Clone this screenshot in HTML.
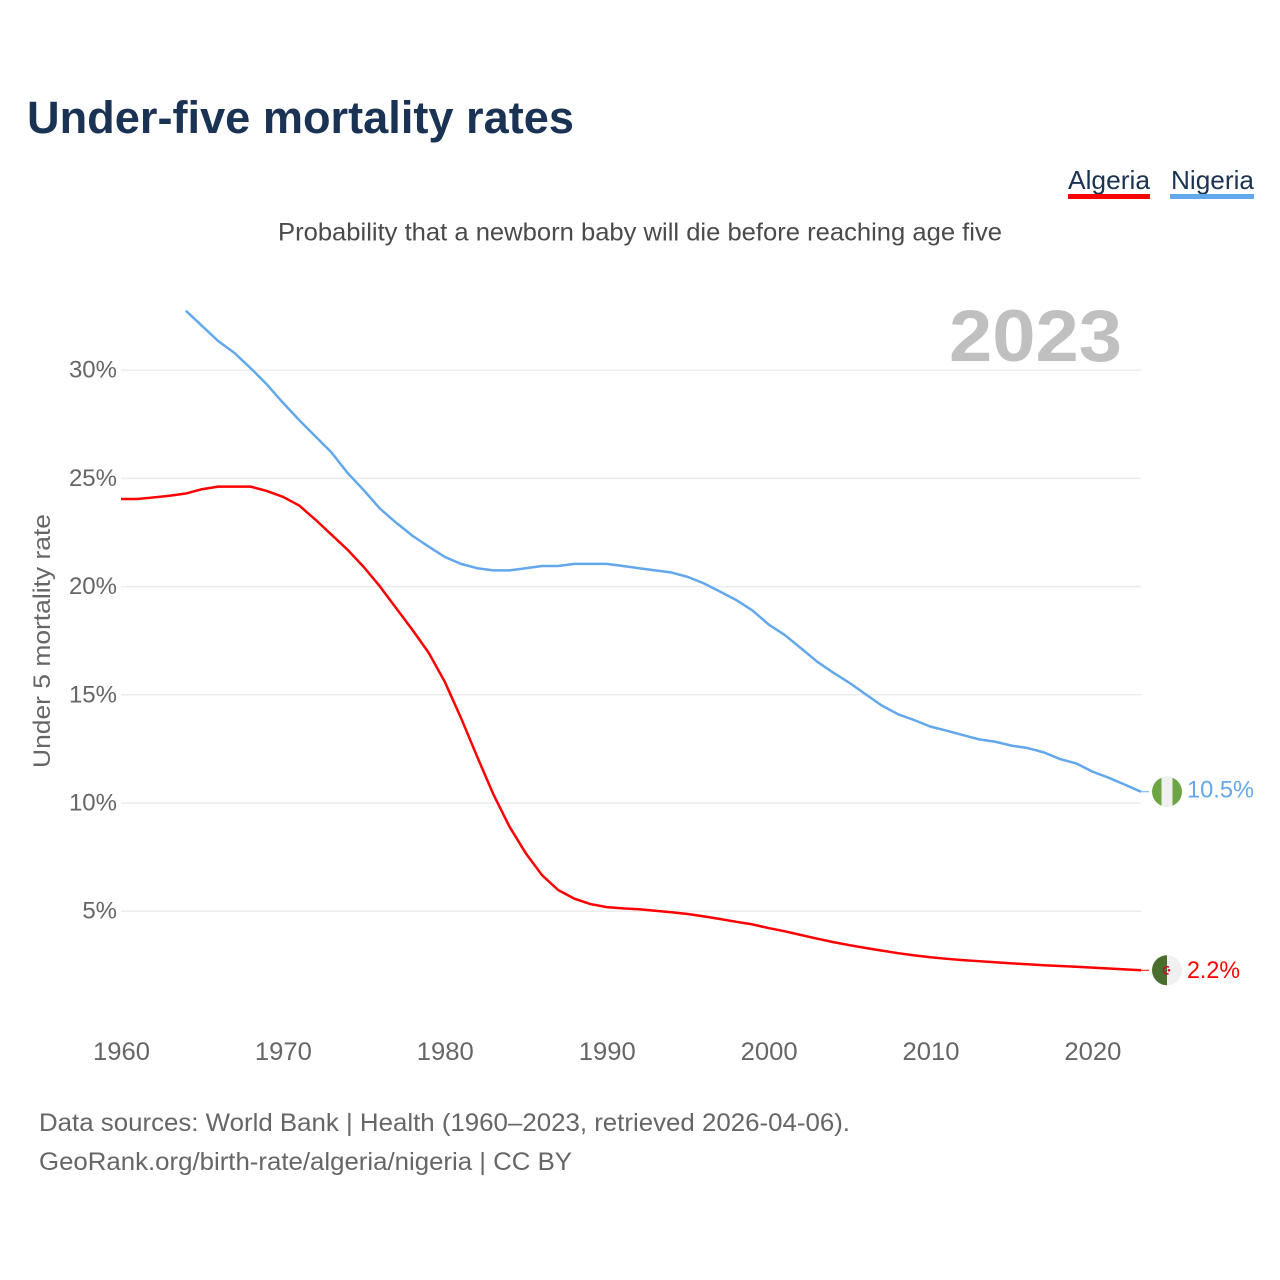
<!DOCTYPE html>
<html lang="en">
<head>
<meta charset="utf-8">
<title>Under-five mortality rates</title>
<style>
html,body{margin:0;padding:0;background:#fff;}
svg{display:block;}
text{font-family:"Liberation Sans",sans-serif;}
</style>
</head>
<body>
<svg id="chart" xmlns="http://www.w3.org/2000/svg" width="1280" height="1280" viewBox="0 0 1280 1280">
  <rect x="0" y="0" width="1280" height="1280" fill="#ffffff"/>
  <text x="27" y="133" font-size="45" font-weight="700" fill="#1a3354" textLength="547" lengthAdjust="spacingAndGlyphs">Under-five mortality rates</text>
  <g>
    <text x="1068" y="189" font-size="26" fill="#1a3354" textLength="82" lengthAdjust="spacingAndGlyphs">Algeria</text>
    <rect x="1068" y="194" width="82" height="5" fill="#ff0000"/>
  </g>
  <g>
    <text x="1171" y="189" font-size="26" fill="#1a3354" textLength="83" lengthAdjust="spacingAndGlyphs">Nigeria</text>
    <rect x="1170" y="194" width="84" height="5" fill="#63a7ec"/>
  </g>
  <text x="278" y="240.5" font-size="25" fill="#4a4a4a" textLength="724" lengthAdjust="spacingAndGlyphs">Probability that a newborn baby will die before reaching age five</text>
  <text x="949" y="361" font-size="73" font-weight="700" fill="#c0c0c0" textLength="173" lengthAdjust="spacingAndGlyphs">2023</text>
  <text transform="translate(50,768) rotate(-90)" x="0" y="0" font-size="24" fill="#666666" textLength="254" lengthAdjust="spacingAndGlyphs">Under 5 mortality rate</text>
  <g id="grid"></g>
  <g id="yticks"></g>
  <g id="xticks"></g>
  <g id="series"></g>
  <g id="end-markers"></g>
  <text x="39" y="1131" font-size="25" fill="#666666" textLength="811" lengthAdjust="spacingAndGlyphs">Data sources: World Bank | Health (1960–2023, retrieved 2026-04-06).</text>
  <text x="39" y="1170" font-size="25" fill="#666666" textLength="533" lengthAdjust="spacingAndGlyphs">GeoRank.org/birth-rate/algeria/nigeria | CC BY</text>
</svg>
<script>
const yearStart = 1960;
const algeriaStartYear = 1960;
const nigeriaStartYear = 1964;
const yTickValues = [5, 10, 15, 20, 25, 30];
const yTickLabels = ["5%", "10%", "15%", "20%", "25%", "30%"];
const xTickYears = [1960, 1970, 1980, 1990, 2000, 2010, 2020];
const xTickLabels = ["1960", "1970", "1980", "1990", "2000", "2010", "2020"];
const algeriaValues = [24.05, 24.05, 24.12, 24.2, 24.3, 24.5, 24.62, 24.62, 24.62, 24.42, 24.15, 23.75, 23.1, 22.4, 21.7, 20.9, 20.0, 19.0, 18.0, 16.95, 15.6, 13.93, 12.14, 10.4, 8.9, 7.68, 6.67, 5.98, 5.58, 5.33, 5.19, 5.13, 5.09, 5.02, 4.95, 4.87, 4.76, 4.64, 4.51, 4.39, 4.22, 4.07, 3.9, 3.73, 3.57, 3.43, 3.3, 3.18, 3.06, 2.96, 2.87, 2.8, 2.74, 2.69, 2.64, 2.59, 2.55, 2.5, 2.47, 2.43, 2.39, 2.35, 2.31, 2.27];
const nigeriaValues = [32.75, 32.05, 31.35, 30.8, 30.1, 29.35, 28.5, 27.7, 26.95, 26.2, 25.25, 24.45, 23.6, 22.95, 22.35, 21.85, 21.37, 21.05, 20.85, 20.75, 20.75, 20.85, 20.95, 20.95, 21.05, 21.05, 21.05, 20.95, 20.85, 20.75, 20.65, 20.45, 20.15, 19.77, 19.38, 18.9, 18.25, 17.76, 17.15, 16.53, 16.02, 15.55, 15.02, 14.5, 14.1, 13.83, 13.53, 13.34, 13.14, 12.94, 12.83, 12.65, 12.54, 12.34, 12.03, 11.83, 11.45, 11.17, 10.85, 10.52];
const algeriaEndLabel = "2.2%";
const nigeriaEndLabel = "10.5%";

const SVG_NS = "http://www.w3.org/2000/svg";
function xScale(year) { return 121 + (year - yearStart) * (1020 / 63); }
function yScale(v) { return 1019.4 - v * 21.64; }
function make(tag, parentId) {
  const el = document.createElementNS(SVG_NS, tag);
  document.getElementById(parentId).appendChild(el);
  return el;
}
function linePath(values, startYear) {
  return values.map(function (v, i) {
    return (i ? "L" : "M") + xScale(startYear + i).toFixed(2) + " " + yScale(v).toFixed(2);
  }).join(" ");
}

yTickValues.forEach(function (v, i) {
  const line = make("line", "grid");
  
  
  line.setAttribute("x1", 121);
  line.setAttribute("x2", 1141);
  line.setAttribute("y1", yScale(v));
  line.setAttribute("y2", yScale(v));
  line.setAttribute("stroke", "#ececec");
  line.setAttribute("stroke-width", "1.5");
  const t = make("text", "yticks");
  
  
  t.setAttribute("x", 117);
  t.setAttribute("y", yScale(v) + 7.5);
  t.setAttribute("text-anchor", "end");
  t.setAttribute("font-size", "24");
  t.setAttribute("fill", "#666666");
  t.textContent = yTickLabels[i];
});

xTickYears.forEach(function (yr, i) {
  const t = make("text", "xticks");
  
  
  t.setAttribute("x", xScale(yr) - 28);
  t.setAttribute("y", 1060);
  t.setAttribute("font-size", "25");
  t.setAttribute("fill", "#666666");
  t.setAttribute("textLength", "57");
  t.setAttribute("lengthAdjust", "spacingAndGlyphs");
  t.textContent = xTickLabels[i];
});

const algeriaLine = make("path", "series");


algeriaLine.setAttribute("d", linePath(algeriaValues, algeriaStartYear));
algeriaLine.setAttribute("fill", "none");
algeriaLine.setAttribute("stroke", "#ff0000");
algeriaLine.setAttribute("stroke-width", "2.5");
algeriaLine.setAttribute("stroke-linejoin", "round");

const nigeriaLine = make("path", "series");


nigeriaLine.setAttribute("d", linePath(nigeriaValues, nigeriaStartYear));
nigeriaLine.setAttribute("fill", "none");
nigeriaLine.setAttribute("stroke", "#63a7ec");
nigeriaLine.setAttribute("stroke-width", "2.5");
nigeriaLine.setAttribute("stroke-linejoin", "round");

const lastX = xScale(2023);
const flagX = lastX + 26;
const ngY = yScale(nigeriaValues[nigeriaValues.length - 1]);
const dzY = yScale(algeriaValues[algeriaValues.length - 1]);

const ngConn = make("line", "end-markers");


ngConn.setAttribute("x1", lastX);
ngConn.setAttribute("x2", lastX + 8);
ngConn.setAttribute("y1", ngY);
ngConn.setAttribute("y2", ngY);
ngConn.setAttribute("stroke", "#63a7ec");
ngConn.setAttribute("stroke-width", "1");

const dzConn = make("line", "end-markers");


dzConn.setAttribute("x1", lastX);
dzConn.setAttribute("x2", lastX + 8);
dzConn.setAttribute("y1", dzY);
dzConn.setAttribute("y2", dzY);
dzConn.setAttribute("stroke", "#ff0000");
dzConn.setAttribute("stroke-width", "1");

const ngBase = make("circle", "end-markers");


ngBase.setAttribute("cx", flagX);
ngBase.setAttribute("cy", ngY);
ngBase.setAttribute("r", 15);
ngBase.setAttribute("fill", "#6da544");

const ngStripe = make("path", "end-markers");


ngStripe.setAttribute("d", "M" + (flagX - 5.5) + " " + (ngY - 14) + " A15 15 0 0 1 " + (flagX + 5.5) + " " + (ngY - 14) + " L" + (flagX + 5.5) + " " + (ngY + 14) + " A15 15 0 0 1 " + (flagX - 5.5) + " " + (ngY + 14) + " Z");
ngStripe.setAttribute("fill", "#f0f0f0");

const dzBase = make("circle", "end-markers");


dzBase.setAttribute("cx", flagX);
dzBase.setAttribute("cy", dzY);
dzBase.setAttribute("r", 15);
dzBase.setAttribute("fill", "#f0f0f0");

const dzGreen = make("path", "end-markers");


dzGreen.setAttribute("d", "M" + flagX + " " + (dzY - 15) + " A15 15 0 0 0 " + flagX + " " + (dzY + 15) + " Z");
dzGreen.setAttribute("fill", "#496e2d");

const dzCrescent = make("circle", "end-markers");


dzCrescent.setAttribute("cx", flagX);
dzCrescent.setAttribute("cy", dzY);
dzCrescent.setAttribute("r", 3.6);
dzCrescent.setAttribute("fill", "none");
dzCrescent.setAttribute("stroke", "#d80027");
dzCrescent.setAttribute("stroke-width", "1.5");
dzCrescent.setAttribute("stroke-dasharray", "15 8");
dzCrescent.setAttribute("stroke-dashoffset", "-4");

const dzStar = make("circle", "end-markers");


dzStar.setAttribute("cx", flagX + 2);
dzStar.setAttribute("cy", dzY);
dzStar.setAttribute("r", 1.3);
dzStar.setAttribute("fill", "#d80027");

const ngLabel = make("text", "end-markers");


ngLabel.setAttribute("x", 1187);
ngLabel.setAttribute("y", ngY + 6);
ngLabel.setAttribute("font-size", "24");
ngLabel.setAttribute("fill", "#63a7ec");
ngLabel.setAttribute("textLength", "67");
ngLabel.setAttribute("lengthAdjust", "spacingAndGlyphs");
ngLabel.textContent = nigeriaEndLabel;

const dzLabel = make("text", "end-markers");


dzLabel.setAttribute("x", 1187);
dzLabel.setAttribute("y", dzY + 7.5);
dzLabel.setAttribute("font-size", "24");
dzLabel.setAttribute("fill", "#ff0000");
dzLabel.setAttribute("textLength", "53");
dzLabel.setAttribute("lengthAdjust", "spacingAndGlyphs");
dzLabel.textContent = algeriaEndLabel;
</script>
</body>
</html>
